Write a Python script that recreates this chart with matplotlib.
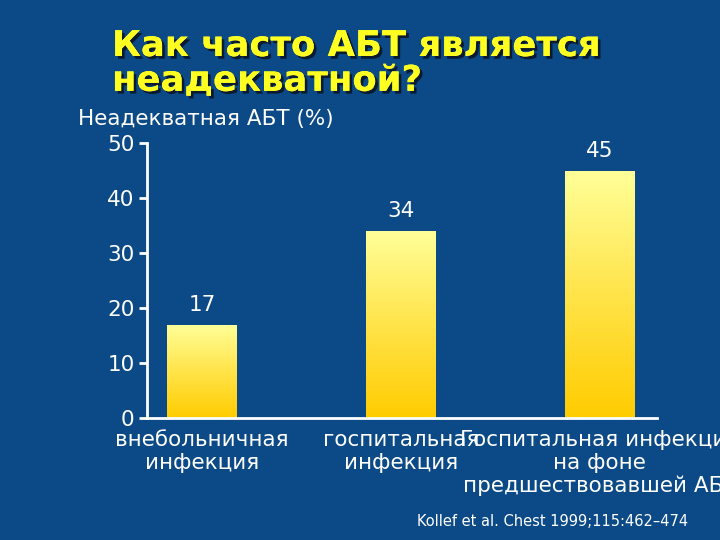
import numpy as np
import matplotlib
matplotlib.use("Agg")
import matplotlib.pyplot as plt
import matplotlib.patheffects as pe
from matplotlib.colors import LinearSegmentedColormap

# ---- data ----
categories = ["внебольничная\nинфекция",
              "госпитальная\nинфекция",
              "Госпитальная инфекция\nна фоне\nпредшествовавшей АБТ"]
values = [17, 34, 45]
yticks = [0, 10, 20, 30, 40, 50]
title = "Как часто АБТ является\nнеадекватной?"
ylabel = "Неадекватная АБТ (%)"
citation = "Kollef et al. Chest 1999;115:462–474"

BG = "#0b4a86"
FS = 15.5
plt.rcParams['font.family'] = ['DejaVu Sans']

fig = plt.figure(figsize=(7.2, 5.4), dpi=100, facecolor=BG)
ax = fig.add_axes([147/720, 122/540, 510/720, 275/540])
ax.set_facecolor(BG)

x = np.arange(len(values))
bars = ax.bar(x, values, width=0.352, color="none", edgecolor="none", zorder=2)

cmap = LinearSegmentedColormap.from_list("g", ["#ffcc00", "#ffe44a", "#ffff99"])
grad = np.linspace(0, 1, 256).reshape(-1, 1)
for b in bars:
    x0, w, h = b.get_x(), b.get_width(), b.get_height()
    im = ax.imshow(grad, extent=[x0, x0 + w, 0, h], origin="lower",
                   cmap=cmap, aspect="auto", zorder=2)
    im.set_clip_path(b)

for xi, v in zip(x, values):
    ax.annotate(str(v), (xi, v), xytext=(0, 7), textcoords="offset points",
                ha="center", va="bottom", color="white", fontsize=FS)

ax.set_xlim(-0.277, 2.289)
ax.set_ylim(0, 50)
ax.set_yticks(yticks)
ax.set_yticklabels([str(t) for t in yticks])
ax.set_xticks(x)
ax.set_xticklabels(categories, linespacing=1.15)
ax.tick_params(axis="y", colors="white", labelsize=FS, length=6, width=2, pad=3)
ax.tick_params(axis="x", colors="white", labelsize=FS, length=0, pad=9)
for s in ["top", "right"]:
    ax.spines[s].set_visible(False)
for s in ["left", "bottom"]:
    ax.spines[s].set_color("white")
    ax.spines[s].set_linewidth(2)

fig.text(78/720, 1 - 119/540, ylabel, color="white", fontsize=FS,
         ha="left", va="center")

fig.text(112/720, 1 - 29/540, title, color="#ffff22", fontsize=25.5,
         fontweight="bold", family="DejaVu Sans", ha="left", va="top",
         linespacing=1.03,
         path_effects=[pe.withSimplePatchShadow(offset=(2, -2), shadow_rgbFace="#0a1a30", alpha=1.0),
                       pe.Normal()])

fig.text(553/720, 1 - 521/540, citation, color="white", fontsize=10.5,
         family="DejaVu Sans", ha="center", va="center")

fig.savefig("out.png", dpi=100, facecolor=BG)
